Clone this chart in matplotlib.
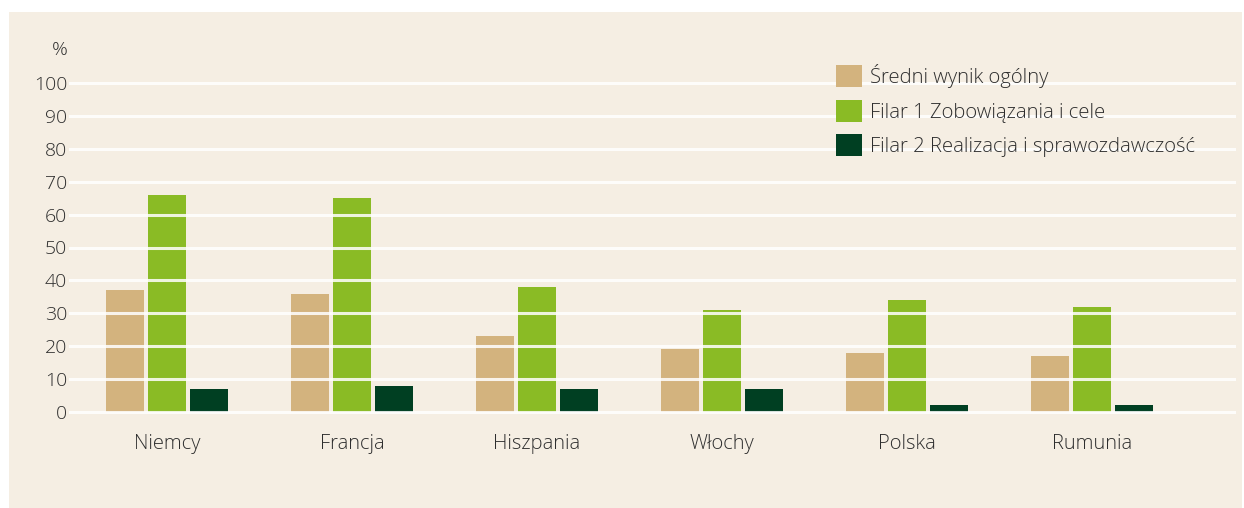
import matplotlib
matplotlib.use("Agg")
import matplotlib.pyplot as plt
from matplotlib.patches import Rectangle, Patch
import numpy as np

categories = ["Niemcy", "Francja", "Hiszpania", "Włochy", "Polska", "Rumunia"]
sredni = [37, 36, 23, 19, 18, 17]
filar1 = [66, 65, 38, 31, 34, 32]
filar2 = [7, 8, 7, 7, 2, 2]
series_names = ["Średni wynik ogólny", "Filar 1 Zobowiązania i cele",
                "Filar 2 Realizacja i sprawozdawczość"]
yticks = [0, 10, 20, 30, 40, 50, 60, 70, 80, 90, 100]

colors = ["#D3B37E", "#8ABB25", "#003F22"]
bg = "#F5EEE3"
txt = "#2e2e2e"

plt.rcParams['font.family'] = ['Open Sans', 'DejaVu Sans']
plt.rcParams['font.weight'] = 'light'

W, H = 1244, 508
fig = plt.figure(figsize=(W / 100, H / 100), dpi=100, facecolor="white")
fig.patches.append(Rectangle((9 / W, 0), (1242 - 9) / W, (508 - 12) / H,
                             transform=fig.transFigure, facecolor=bg,
                             edgecolor="none", zorder=-10))

ax = fig.add_axes([70 / W, 1 - 412 / H, (1234 - 70) / W, (412 - 83) / H])
ax.set_facecolor("none")

x = np.arange(len(categories))
bw = 38 / 185
step = 42 / 185
for i, vals in enumerate([sredni, filar1, filar2]):
    ax.bar(x + (i - 1) * step, vals, width=bw, color=colors[i], zorder=2,
           label=series_names[i])

ax.set_xlim(-97 / 185, (1234 - 167) / 185)
ax.set_ylim(0, 100)
for yv in yticks:
    ax.axhline(yv, color="white", lw=2.2, alpha=0.85, zorder=3, clip_on=False)

for s in ax.spines.values():
    s.set_visible(False)
ax.set_yticks(yticks)
ax.set_yticklabels([str(v) for v in yticks], fontsize=14, color=txt)
ax.set_xticks(x)
ax.set_xticklabels(categories, fontsize=14.5, color=txt)
ax.tick_params(axis="both", length=0)
ax.tick_params(axis="y", pad=2)
ax.tick_params(axis="x", pad=16)

fig.text(68 / W, 1 - 50 / H, "%", ha="right", va="center", fontsize=14, color=txt)

handles = [Patch(facecolor=c, edgecolor="none") for c in colors]
fig.legend(handles, series_names, loc="upper left",
           bbox_to_anchor=(836 / W, 1 - 64 / H), frameon=False,
           prop={'size': 14.6, 'weight': 'light'}, labelcolor=txt,
           handlelength=1.3, handleheight=1.3,
           labelspacing=0.58, handletextpad=0.4, borderpad=0,
           borderaxespad=0)

fig.savefig("out.png", dpi=100, facecolor="white")
